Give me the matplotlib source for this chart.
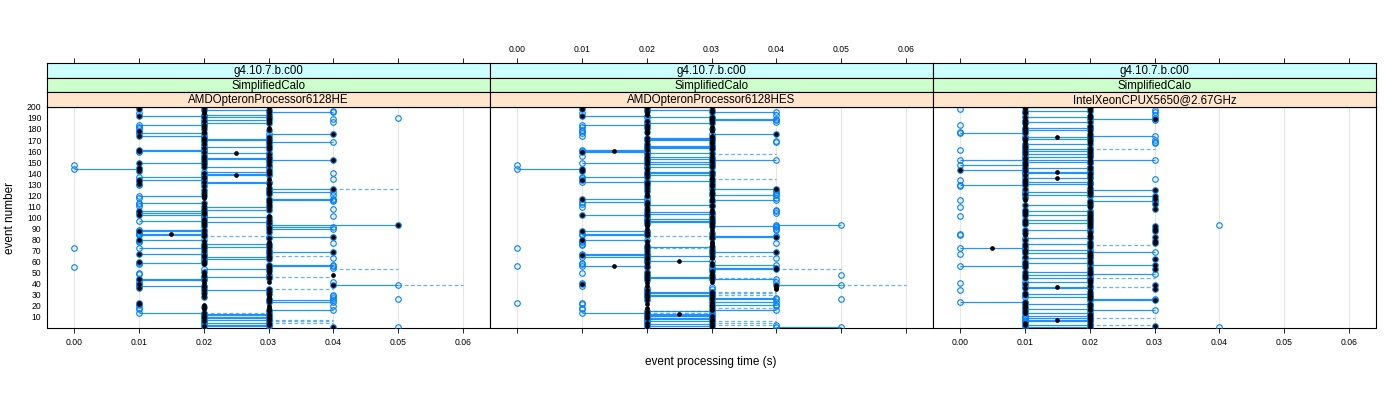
# !/usr/bin/env python
import numpy as np
from matplotlib import pyplot as plt

plt.rcParams['font.family'] = ['Liberation Sans', 'DejaVu Sans']

# ---- data ------------------------------------------------------------------
version = 'g4.10.7.b.c00'
application = 'SimplifiedCalo'
cpus = ['AMDOpteronProcessor6128HE', 'AMDOpteronProcessor6128HES',
        'IntelXeonCPUX5650@2.67GHz']
x_ticks = [0.00, 0.01, 0.02, 0.03, 0.04, 0.05, 0.06]
y_ticks = list(range(10, 201, 10))

# one token per event (1..200): "lo hi median" in 1/100 s; a=.005 b=.015 c=.025
p1_events = [
    "444 232 233 333 233 222 233 333 232 233",
    "222 233 233 122 333 343 112 113 222 443",
    "112 111 111 343 343 333 443 222 443 442",
    "333 222 333 232 333 111 222 122 454 111",
    "112 443 122 121 333 233 222 334 112 113",
    "222 333 233 443 333 343 343 112 122 111",
    "222 233 443 232 333 222 121 333 344 222",
    "333 122 233 222 333 232 443 113 112 121",
    "333 344 222 122 12b 112 333 121 122 343",
    "343 222 355 222 333 232 122 333 222 233",
    "443 121 222 122 112 121 233 442 233 112",
    "333 113 122 333 443 343 343 112 122 442",
    "333 222 343 333 222 344 333 222 113 111",
    "233 232 111 121 443 222 122 23c 233 442",
    "233 111 333 011 111 232 333 222 121 333",
    "222 344 233 232 333 222 333 23c 112 121",
    "121 333 222 233 333 222 333 343 222 233",
    "232 222 333 121 344 122 112 111 333 222",
    "113 112 222 122 233 443 222 233 443 333",
    "232 121 233 112 343 442 233 111 222 113",
]
p2_events = [
    "453 232 443 233 222 233 333 233 232 222",
    "233 232 23c 122 232 343 113 112 333 443",
    "343 112 113 343 222 343 343 222 233 232",
    "333 232 233 222 334 224 334 112 454 111",
    "112 443 222 343 232 233 222 333 222 113",
    "222 333 344 344 222 12b 343 112 113 222",
    "23c 222 443 122 233 121 122 333 344 222",
    "333 222 233 222 113 112 443 113 112 121",
    "333 344 343 122 122 333 222 121 443 442",
    "443 342 453 222 333 232 233 222 233 333",
    "222 121 232 443 233 442 443 222 112 333",
    "233 112 222 122 333 343 121 443 222 343",
    "442 333 443 222 443 344 222 333 222 333",
    "222 122 233 111 333 113 122 233 222 232",
    "233 111 112 011 222 233 333 232 122 233",
    "222 343 233 222 232 113 222 233 121 12b",
    "122 333 233 232 233 222 333 443 442 233",
    "233 232 333 113 344 112 222 113 112 333",
    "222 113 222 122 233 443 222 343 343 333",
    "233 121 442 112 343 222 233 111 222 113",
]
p3_events = [
    "122 333 121 222 111 122 12b 222 122 112",
    "122 222 222 121 111 232 122 111 111 222",
    "221 122 111 011 233 232 222 122 222 111",
    "122 111 222 002 333 121 12b 222 333 111",
    "002 122 222 222 121 111 111 121 232 222",
    "121 222 333 222 111 011 233 111 122 111",
    "222 333 122 111 222 222 002 121 232 111",
    "121 01a 222 111 222 121 333 222 333 111",
    "122 333 222 001 002 111 222 333 121 333",
    "222 333 222 111 122 111 222 121 222 222",
    "002 121 222 111 222 121 111 333 002 222",
    "121 333 222 222 232 001 333 111 233 122",
    "111 222 122 222 233 111 222 002 011 121",
    "222 121 111 002 331 12b 222 111 222 122",
    "12b 111 010 222 121 222 011 111 222 121",
    "222 032 111 111 122 222 121 222 111 122",
    "002 121 222 111 111 122 331 332 222 331",
    "122 111 12b 232 222 011 002 111 122 111",
    "121 222 222 001 111 122 111 331 233 332",
    "121 222 332 111 331 122 332 001 222 121",
]

# dashed segments: (event, from, to) in seconds
p1_dashed = [(5, 0.03, 0.04), (6, 0.03, 0.04), (7, 0.03, 0.04), (14, 0.02, 0.03),
             (35, 0.03, 0.04), (39, 0.05, 0.06), (46, 0.03, 0.04), (53, 0.04, 0.05),
             (65, 0.03, 0.04), (83, 0.02, 0.03), (126, 0.04, 0.05)]
p2_dashed = [(3, 0.03, 0.04), (5, 0.03, 0.04), (6, 0.03, 0.04), (14, 0.02, 0.03),
             (15, 0.02, 0.03), (18, 0.03, 0.04), (30, 0.03, 0.04), (32, 0.03, 0.04),
             (33, 0.03, 0.04), (39, 0.05, 0.06), (45, 0.03, 0.04), (53, 0.04, 0.05),
             (65, 0.03, 0.04), (72, 0.02, 0.03), (83, 0.02, 0.03), (135, 0.03, 0.04),
             (157, 0.03, 0.04)]
p3_dashed = [(3, 0.02, 0.03), (9, 0.02, 0.03), (37, 0.02, 0.03), (45, 0.02, 0.03),
             (75, 0.02, 0.03), (162, 0.02, 0.03)]

# isolated single-run values: (event, seconds)
p1_extra = [(1, 0.05), (26, 0.05), (55, 0.00), (72, 0.00), (147, 0.00), (190, 0.05)]
p2_extra = [(23, 0.00), (26, 0.05), (48, 0.05), (56, 0.00), (72, 0.00), (147, 0.00)]
p3_extra = [(1, 0.04), (93, 0.04)]

panels = [(p1_events, p1_dashed, p1_extra),
          (p2_events, p2_dashed, p2_extra),
          (p3_events, p3_dashed, p3_extra)]

code = {'0': 0.0, '1': 0.01, '2': 0.02, '3': 0.03, '4': 0.04, '5': 0.05,
        '6': 0.06, 'a': 0.005, 'b': 0.015, 'c': 0.025}


def decode(rows):
    toks = ' '.join(rows).split()
    lo = np.array([code[t[0]] for t in toks])
    hi = np.array([code[t[1]] for t in toks])
    med = np.array([code[t[2]] for t in toks])
    ev = np.arange(1, len(toks) + 1)
    return ev, lo, hi, med


# ---- figure ----------------------------------------------------------------
blue = '#0080ff'
strip_cols = ['#ccffff', '#ccffcc', '#ffe5cc']
strip_txt = [version, application]
xlim = (-0.00416, 0.06416)

fig = plt.figure(figsize=(14, 4), dpi=100)
left0, pw = 47 / 1400, 443 / 1400
pb, ph = 1 - 327.5 / 400, 221 / 400
sh = 14.4 / 400

for i, (events, dashed, extra) in enumerate(panels):
    ev, lo, hi, med = decode(events)
    ax = fig.add_axes([left0 + i * pw, pb, pw, ph])
    ax.set_xlim(*xlim)
    ax.set_ylim(0.5, 200.3)
    for xt in x_ticks:
        ax.axvline(xt, color='#e6e6e6', lw=0.8, zorder=0)

    m = hi > lo
    ax.hlines(ev[m], lo[m], hi[m], color=blue, lw=0.9, alpha=0.85, zorder=2)
    d = np.array(dashed)
    ax.hlines(d[:, 0], d[:, 1], d[:, 2], color=blue, lw=0.9, alpha=0.6,
              linestyles=(0, (3, 2)), zorder=2)

    cx = np.concatenate([lo, hi[m]])
    cy = np.concatenate([ev, ev[m]])
    e = np.array(extra)
    cx = np.concatenate([cx, e[:, 1]])
    cy = np.concatenate([cy, e[:, 0]])
    ax.plot(cx, cy, 'o', mfc='none', mec=blue, ms=4.0, mew=0.8, zorder=3)
    ax.plot(med, ev, 'o', color='black', ms=3.4, mew=0, zorder=4)

    ax.set_xticks(x_ticks)
    ax.set_yticks(y_ticks)
    ax.tick_params(axis='x', direction='out', length=3.6, width=0.6, pad=4,
                   labelsize=6.2, labelbottom=(i != 1))
    ax.tick_params(axis='y', direction='out', length=0, width=0.6, pad=4,
                   labelsize=6.2, left=(i == 0), labelleft=(i == 0),
                   right=(i == 2))
    if i == 0:
        ax.set_yticklabels([str(v) for v in y_ticks])
    ax.set_xticklabels(['%.2f' % v for v in x_ticks])
    for sp in ax.spines.values():
        sp.set_linewidth(0.8)

    # strips
    labels = strip_txt + [cpus[i]]
    for j in range(3):
        sa = fig.add_axes([left0 + i * pw, pb + ph + (2 - j) * sh, pw, sh])
        sa.set_facecolor(strip_cols[j])
        sa.set_xlim(*xlim)
        sa.set_yticks([])
        sa.text(0.5, 0.45, labels[j], transform=sa.transAxes, ha='center',
                va='center', fontsize=8.3)
        for sp in sa.spines.values():
            sp.set_linewidth(0.8)
        if j == 0:
            sa.xaxis.tick_top()
            sa.set_xticks(x_ticks)
            sa.set_xticklabels(['%.2f' % v for v in x_ticks])
            sa.tick_params(axis='x', direction='out', length=3.6, width=0.6,
                           pad=3, labelsize=6.2, labeltop=(i == 1))
        else:
            sa.set_xticks([])

fig.text(711 / 1400, 1 - 362 / 400, 'event processing time (s)', ha='center',
         va='center', fontsize=8.5)
fig.text(10 / 1400, 1 - 218 / 400, 'event number', ha='center', va='center',
         rotation=90, fontsize=8.5)

fig.savefig('out.png', dpi=100)
